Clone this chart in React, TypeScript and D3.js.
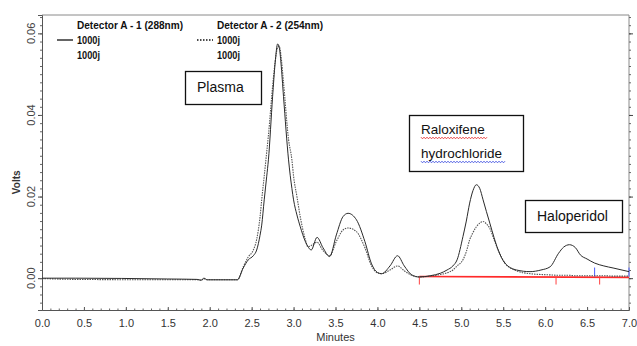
import { useEffect, useRef } from 'react'
import * as d3 from 'd3'

// retention time (min) shared by both traces
const TIME = [
  0.0, 0.4, 1.5, 1.85, 1.9, 1.93, 1.97, 2.33, 2.4, 2.46, 2.52, 2.56, 2.6, 2.62, 2.65, 2.68, 2.7,
  2.75, 2.78, 2.81, 2.83, 2.85, 2.88, 2.94, 2.98, 3.0, 3.04, 3.08, 3.14, 3.17, 3.21, 3.28, 3.35,
  3.43, 3.51, 3.59, 3.65, 3.75, 3.85, 3.93, 4.0, 4.05, 4.15, 4.24, 4.32, 4.41, 4.5, 4.63, 4.75,
  4.83, 4.9, 4.95, 5.02, 5.06, 5.1, 5.14, 5.18, 5.22, 5.26, 5.3, 5.34, 5.39, 5.44, 5.52, 5.66,
  5.82, 5.95, 6.06, 6.16, 6.22, 6.29, 6.36, 6.42, 6.5, 6.59, 6.7, 6.81, 7.0,
]

// Detector A - 1 (288nm), solid
const DET1 = [
  0.0, 0.0, -0.0002, -0.0003, -0.0005, 0.0, -0.0004, -0.0004, 0.0025, 0.0045, 0.0055, 0.0069, 0.0105,
  0.013, 0.0192, 0.025, 0.029, 0.0445, 0.0527, 0.0574, 0.0565, 0.0527, 0.0445, 0.029, 0.022, 0.0192,
  0.0155, 0.0126, 0.009, 0.0078, 0.0069, 0.01, 0.0075, 0.0053, 0.0106, 0.0151, 0.0159, 0.0143, 0.009,
  0.0035, 0.0014, 0.0011, 0.003, 0.0055, 0.003, 0.0008, 0.0003, 0.0006, 0.0012, 0.002, 0.003, 0.0045,
  0.0102, 0.014, 0.0184, 0.0215, 0.0229, 0.022, 0.0192, 0.0163, 0.0135, 0.01, 0.0069, 0.0037, 0.002,
  0.0016, 0.002, 0.0028, 0.0061, 0.0076, 0.0082, 0.0075, 0.0057, 0.0047, 0.0037, 0.003, 0.0025, 0.0016,
]

// Detector A - 2 (254nm), dotted
const DET2 = [
  -0.0001, -0.0003, -0.0004, -0.0004, -0.0005, -0.0001, -0.0004, -0.0004, 0.0028, 0.0052, 0.0069,
  0.0095, 0.015, 0.0192, 0.025, 0.031, 0.035, 0.047, 0.053, 0.0565, 0.0568, 0.0545, 0.048, 0.034,
  0.029, 0.025, 0.02, 0.015, 0.0095, 0.0077, 0.008, 0.0088, 0.0068, 0.0055, 0.009, 0.0118, 0.0123,
  0.0114, 0.0075, 0.003, 0.0013, 0.0011, 0.002, 0.003, 0.0018, 0.0007, 0.0003, 0.0005, 0.0009, 0.0013,
  0.002, 0.003, 0.0045, 0.0065, 0.0094, 0.0112, 0.0126, 0.0135, 0.0139, 0.0133, 0.0122, 0.0095,
  0.0069, 0.0037, 0.0018, 0.0011, 0.0009, 0.0008, 0.0007, 0.0007, 0.0007, 0.0006, 0.0006, 0.0006,
  0.0006, 0.0006, 0.0005, 0.0005,
]

const X_TICKS = [0, 0.5, 1, 1.5, 2, 2.5, 3, 3.5, 4, 4.5, 5, 5.5, 6, 6.5, 7]
const Y_TICKS = [0, 0.02, 0.04, 0.06]
const BASELINE_RANGE = [4.5, 7.0]
const BASELINE_LEVEL = 0.0004
const RED_MARKS = [4.5, 6.13, 6.65]
const BLUE_MARKS = [6.59, 7.0]

const W = 637
const H = 346
const margin = { top: 15, right: 8, bottom: 36, left: 42 }

export default function App() {
  const svgRef = useRef<SVGSVGElement>(null)

  useEffect(() => {
    if (!svgRef.current) return
    const svg = d3.select(svgRef.current)
    svg.selectAll('*').remove()

    const w = W - margin.left - margin.right
    const h = H - margin.top - margin.bottom
    const g = svg.append('g').attr('transform', `translate(${margin.left},${margin.top})`)

    const x = d3.scaleLinear().domain([0, 7]).range([0, w])
    const y = d3.scaleLinear().domain([-0.0078, 0.0645]).range([h, 0])

    const axisFont = 'Liberation Sans Narrow, Arial Narrow, Liberation Sans, Arial, sans-serif'

    // frame
    g.append('line').attr('x1', 0).attr('x2', w).attr('y1', 0).attr('y2', 0)
      .attr('stroke', '#8a8a8a').attr('stroke-width', 1)
    g.append('line').attr('x1', w).attr('x2', w).attr('y1', 0).attr('y2', h)
      .attr('stroke', '#8a8a8a').attr('stroke-width', 1)

    // x axis
    g.append('g').attr('transform', `translate(0,${h})`)
      .call(d3.axisBottom(x).tickValues(X_TICKS).tickSize(-3).tickPadding(9).tickFormat(d3.format('.1f')))
      .call(ax => ax.select('.domain').attr('stroke', '#555'))
      .call(ax => ax.selectAll('.tick line').attr('stroke', '#555'))
      .call(ax => ax.selectAll('text').attr('fill', '#333').attr('font-size', '11px').attr('font-family', axisFont))
    g.append('g').attr('transform', `translate(0,${h})`)
      .call(d3.axisBottom(x).tickValues(d3.range(0, 70).map(i => i / 10)).tickSize(-1.5).tickFormat(() => ''))
      .call(ax => ax.select('.domain').remove())
      .call(ax => ax.selectAll('.tick line').attr('stroke', '#666'))

    // y axis
    g.append('g')
      .call(d3.axisLeft(y).tickValues(Y_TICKS).tickSize(4).tickFormat(() => ''))
      .call(ax => ax.select('.domain').attr('stroke', '#555'))
      .call(ax => ax.selectAll('.tick line').attr('stroke', '#444'))
    g.append('g')
      .call(d3.axisLeft(y).tickValues(d3.range(-3, 33).map(i => i * 0.002)).tickSize(2).tickFormat(() => ''))
      .call(ax => ax.select('.domain').remove())
      .call(ax => ax.selectAll('.tick line').attr('stroke', '#666'))
    // right mirrored ticks
    g.append('g').attr('transform', `translate(${w},0)`)
      .call(d3.axisRight(y).tickValues(d3.range(-3, 33).map(i => i * 0.002)).tickSize(2).tickFormat(() => ''))
      .call(ax => ax.select('.domain').remove())
      .call(ax => ax.selectAll('.tick line').attr('stroke', '#666'))
    g.append('g').attr('transform', `translate(${w},0)`)
      .call(d3.axisRight(y).tickValues(Y_TICKS).tickSize(4).tickFormat(() => ''))
      .call(ax => ax.select('.domain').remove())
      .call(ax => ax.selectAll('.tick line').attr('stroke', '#444'))

    Y_TICKS.forEach(v => {
      g.append('text')
        .attr('transform', `translate(-7,${y(v)}) rotate(-90)`)
        .attr('text-anchor', 'middle')
        .attr('fill', '#444').attr('font-size', '11px').attr('font-family', axisFont)
        .text(v.toFixed(2))
    })

    // axis titles
    g.append('text')
      .attr('transform', `translate(-22,${y(0.0235)}) rotate(-90)`)
      .attr('text-anchor', 'middle')
      .attr('fill', '#333').attr('font-size', '10px').attr('font-weight', '700').attr('font-family', axisFont)
      .text('Volts')
    g.append('text')
      .attr('x', w / 2).attr('y', h + 31)
      .attr('text-anchor', 'middle')
      .attr('fill', '#333').attr('font-size', '11px').attr('font-family', axisFont)
      .text('Minutes')

    // integration baseline
    g.append('line')
      .attr('x1', x(BASELINE_RANGE[0])).attr('x2', x(BASELINE_RANGE[1]))
      .attr('y1', y(BASELINE_LEVEL)).attr('y2', y(0.0002))
      .attr('stroke', '#ff2a2a').attr('stroke-width', 1.6)
    RED_MARKS.forEach(t => {
      g.append('line')
        .attr('x1', x(t)).attr('x2', x(t))
        .attr('y1', y(BASELINE_LEVEL)).attr('y2', y(BASELINE_LEVEL) + 8)
        .attr('stroke', '#ff4040').attr('stroke-width', 1)
    })
    BLUE_MARKS.forEach(t => {
      g.append('line')
        .attr('x1', x(t)).attr('x2', x(t))
        .attr('y1', y(BASELINE_LEVEL)).attr('y2', y(BASELINE_LEVEL) - 9)
        .attr('stroke', '#4a5cff').attr('stroke-width', 1)
    })

    // traces
    const line = d3.line<number>()
      .x((_, i) => x(TIME[i]))
      .y(d => y(d))
      .curve(d3.curveMonotoneX)

    g.append('path').datum(DET2)
      .attr('d', line).attr('fill', 'none')
      .attr('stroke', '#555').attr('stroke-width', 1.1).attr('stroke-dasharray', '1.5,1')
    g.append('path').datum(DET1)
      .attr('d', line).attr('fill', 'none')
      .attr('stroke', '#2a2a2a').attr('stroke-width', 1)

    // legend
    const legFont = 'Liberation Sans Narrow, Arial Narrow, Liberation Sans, Arial, sans-serif'
    const legend = [
      { title: 'Detector A - 1 (288nm)', x0: 57, dash: null },
      { title: 'Detector A - 2 (254nm)', x0: 197, dash: '1.5,1.5' },
    ]
    legend.forEach(item => {
      svg.append('line')
        .attr('x1', item.x0).attr('x2', item.x0 + 16).attr('y1', 40).attr('y2', 40)
        .attr('stroke', '#111').attr('stroke-width', 1.3)
        .attr('stroke-dasharray', item.dash)
      svg.append('text')
        .attr('x', item.x0 + 20).attr('y', 29)
        .attr('font-size', '11px').attr('font-weight', '700').attr('font-family', legFont)
        .attr('textLength', 106).attr('lengthAdjust', 'spacingAndGlyphs')
        .attr('fill', '#111')
        .text(item.title)
      ;[44, 59].forEach(yy => {
        svg.append('text')
          .attr('x', item.x0 + 20).attr('y', yy)
          .attr('font-size', '11px').attr('font-weight', '700').attr('font-family', legFont)
          .attr('textLength', 23).attr('lengthAdjust', 'spacingAndGlyphs')
          .attr('fill', '#111')
          .text('1000j')
      })
    })

    // annotation boxes
    const boxFont = 'Liberation Sans, Arial, sans-serif'
    const boxes = [
      { x: 185, y: 71, w: 76, h: 33, lines: ['Plasma'], ty: [92], size: 14 },
      { x: 409, y: 115, w: 114, h: 56, lines: ['Raloxifene', 'hydrochloride'], ty: [134, 158], size: 13.5 },
      { x: 525, y: 200, w: 97, h: 32, lines: ['Haloperidol'], ty: [221], size: 14 },
    ]
    boxes.forEach(b => {
      svg.append('rect')
        .attr('x', b.x + 0.5).attr('y', b.y + 0.5).attr('width', b.w).attr('height', b.h)
        .attr('fill', '#fff').attr('stroke', '#111').attr('stroke-width', 1.3)
      b.lines.forEach((s, i) => {
        svg.append('text')
          .attr('x', b.x + 12).attr('y', b.ty[i])
          .attr('font-size', `${b.size}px`).attr('font-family', boxFont).attr('fill', '#111')
          .text(s)
      })
    })

    // spell-check squiggles under the Raloxifene label
    const squiggle = (x0: number, x1: number, yy: number, color: string) => {
      const pts: [number, number][] = []
      for (let px = x0, k = 0; px <= x1; px += 1.5, k++) pts.push([px, yy + (k % 2 ? 0.8 : -0.8)])
      svg.append('path').attr('d', d3.line()(pts)).attr('fill', 'none')
        .attr('stroke', color).attr('stroke-width', 0.9)
    }
    squiggle(421, 488, 138, '#e53030')
    squiggle(421, 505, 162, '#4050e0')
  }, [])

  return (
    <svg ref={svgRef} width={W} height={H}
      style={{ position: 'absolute', left: 0, top: 0, background: '#fff', display: 'block' }} />
  )
}
